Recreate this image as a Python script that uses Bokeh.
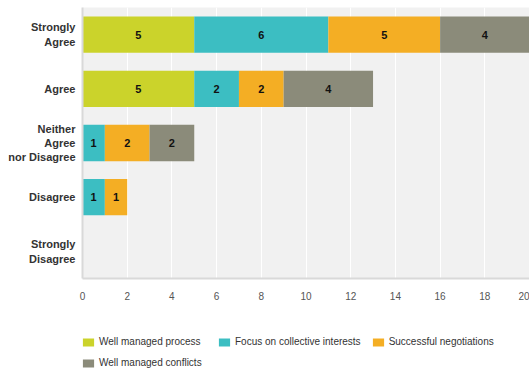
from bokeh.plotting import figure
from bokeh.layouts import column
from bokeh.models import FactorRange, Range1d, Legend, LegendItem, ColumnDataSource, SingleIntervalTicker
from bokeh.core.properties import value
from bokeh.embed import file_html
from bokeh.resources import INLINE

categories = ["Strongly\nAgree", "Agree", "Neither\nAgree\nnor Disagree", "Disagree", "Strongly\nDisagree"]
series_names = ["Well managed process", "Focus on collective interests", "Successful negotiations", "Well managed conflicts"]
well_managed_process = [5, 5, 0, 0, 0]
focus_on_collective = [6, 2, 1, 1, 0]
successful_negotiations = [5, 2, 2, 1, 0]
well_managed_conflicts = [4, 4, 2, 0, 0]
colors = ["#cbd32b", "#3cbec2", "#f4ae24", "#8b8b7a"]

keys = ["s0", "s1", "s2", "s3"]
data = {"cat": categories, "s0": well_managed_process, "s1": focus_on_collective,
        "s2": successful_negotiations, "s3": well_managed_conflicts}
src = ColumnDataSource(data)

FONT = "Liberation Sans"

p = figure(width=529, height=310, y_range=FactorRange(*reversed(categories)),
           x_range=Range1d(0, 20), output_backend="svg", toolbar_location=None,
           min_border_left=82, min_border_right=0, min_border_top=7, min_border_bottom=32)
p.background_fill_color = "#f1f1f1"
p.outline_line_color = None

renderers = p.hbar_stack(keys, y="cat", height=0.67, color=colors, source=src, line_color=None)

# value labels
lx, ly, lt = [], [], []
for i, c in enumerate(categories):
    left = 0
    for k in keys:
        v = data[k][i]
        if v > 0:
            lx.append(left + v / 2)
            ly.append(c)
            lt.append(str(v))
        left += v
p.text(x=lx, y=ly, text=lt, text_align="center", text_baseline="middle",
       text_font=value(FONT), text_font_style="bold", text_font_size="11px", text_color="#111111")

p.xaxis.ticker = SingleIntervalTicker(interval=2)
p.xgrid.grid_line_color = "white"
p.xgrid.grid_line_width = 1
p.ygrid.grid_line_color = None

for ax in (p.xaxis[0], p.yaxis[0]):
    ax.axis_line_color = "#d9d9d9"
    ax.axis_line_width = 2
    ax.major_tick_line_color = None
    ax.minor_tick_line_color = None
    ax.major_tick_out = 0
    ax.major_label_text_font = FONT

p.xaxis.major_label_text_font_size = "10px"
p.xaxis.major_label_text_color = "#555555"
p.xaxis.major_label_standoff = 9
p.yaxis.major_label_text_font_size = "11px"
p.yaxis.major_label_text_font_style = "bold"
p.yaxis.major_label_text_color = "#333333"
p.yaxis.major_label_standoff = 7

# legend strip: same stacked series, drawn outside its visible x range so only the legend shows
lp = figure(width=529, height=60, x_range=Range1d(-2, -1), y_range=FactorRange(*categories),
            output_backend="svg", toolbar_location=None,
            x_axis_location=None, y_axis_location=None,
            min_border_left=0, min_border_right=0, min_border_top=0, min_border_bottom=0)
lp.grid.visible = False
lp.outline_line_color = None
swatches = lp.hbar_stack(keys, y="cat", height=0.67, color=colors, source=src, line_color=None)

leg = Legend(items=[LegendItem(label=series_names[i], renderers=[swatches[i]]) for i in range(4)],
             ncols=3, orientation="horizontal", label_text_font=FONT, label_text_font_size="10px",
             label_text_color="#333333", glyph_width=14, glyph_height=10, label_standoff=4,
             label_height=8, label_width=108, padding=0, border_line_color=None,
             background_fill_alpha=0, spacing=10, margin=0, location=(-1, 2))
lp.add_layout(leg)

layout = column(p, lp, spacing=0)
open("out.html", "w").write(file_html(layout, INLINE))
